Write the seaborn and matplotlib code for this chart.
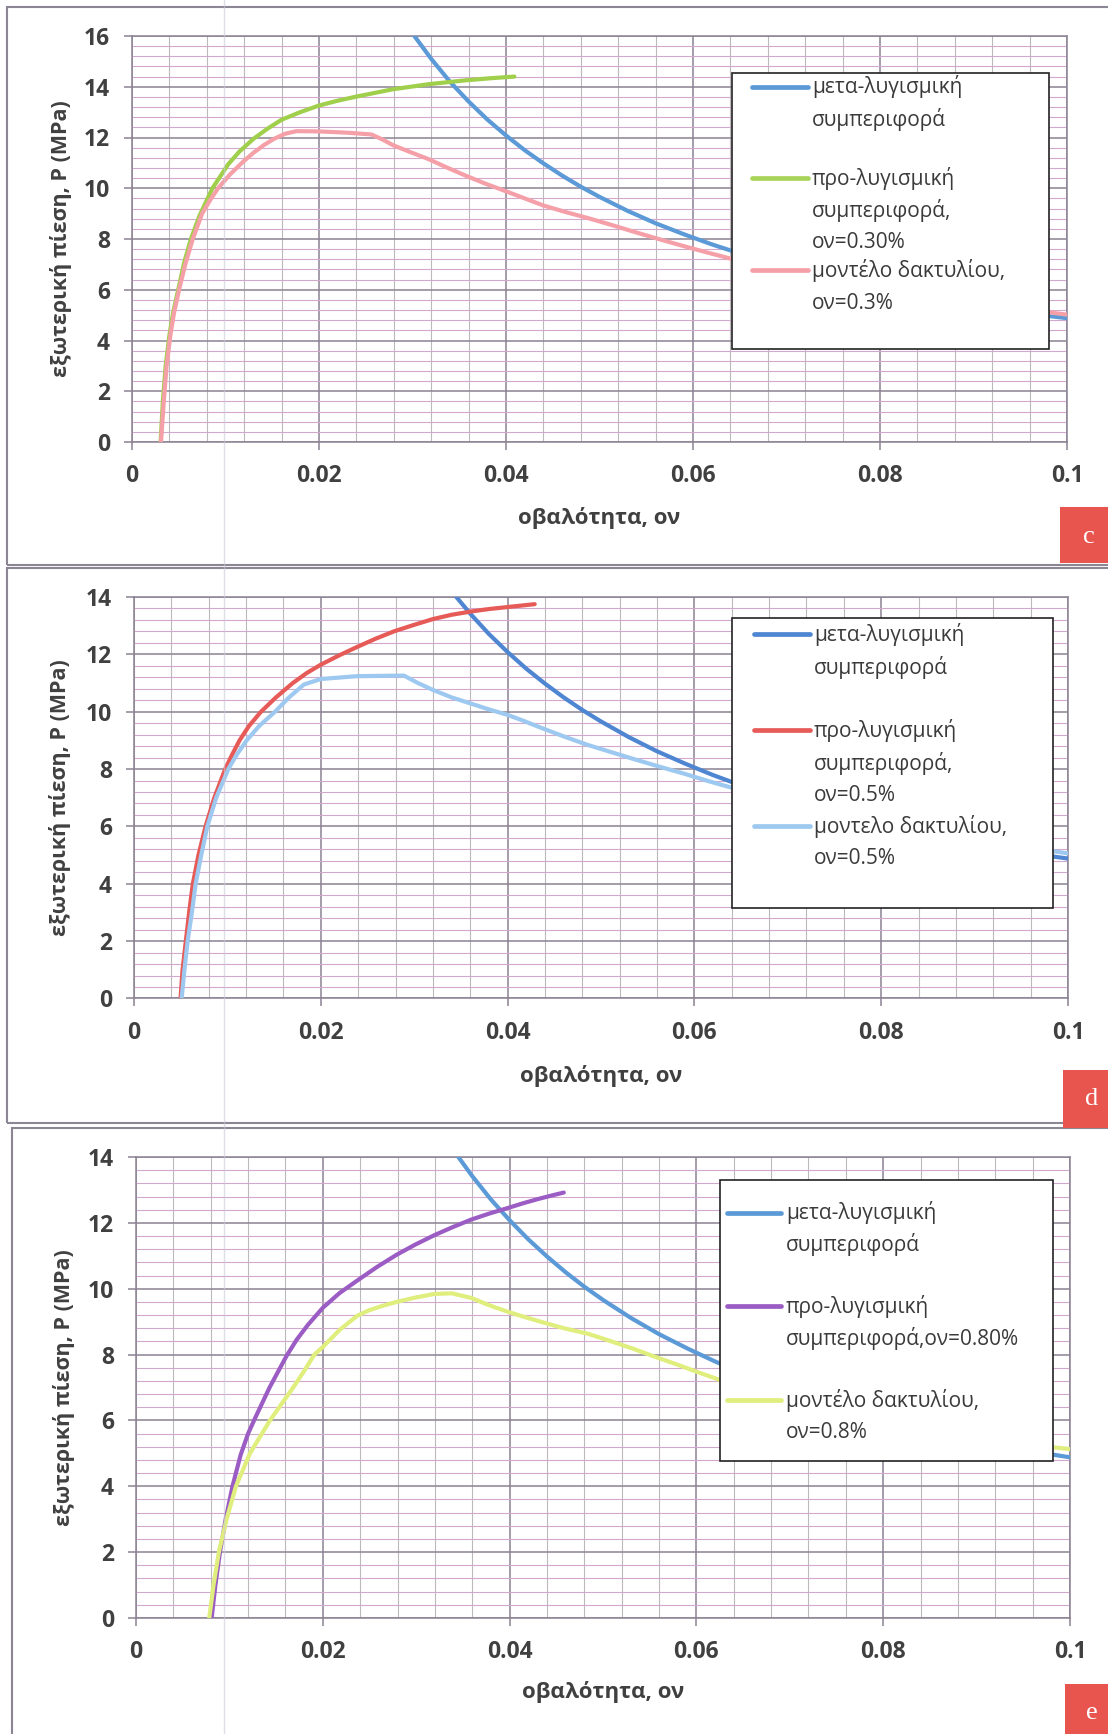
import numpy as np
import seaborn as sns
import matplotlib
matplotlib.use("Agg")
from matplotlib import pyplot as plt
from matplotlib.patches import Rectangle
from matplotlib.lines import Line2D
from matplotlib.ticker import MultipleLocator
from matplotlib.transforms import blended_transform_factory

# post-buckling curve (same in all three panels)
post_x = [0.029, 0.030, 0.032, 0.034, 0.036, 0.038, 0.040, 0.042, 0.044, 0.046,
          0.048, 0.050, 0.053, 0.056, 0.059, 0.062, 0.065, 0.068, 0.072, 0.076,
          0.080, 0.085, 0.090, 0.095, 0.100]
post_y = [16.6, 16.1, 15.1, 14.2, 13.42, 12.71, 12.08, 11.5, 10.98, 10.5,
          10.06, 9.66, 9.11, 8.62, 8.19, 7.79, 7.43, 7.1, 6.71, 6.36,
          6.04, 5.69, 5.38, 5.1, 4.88]

# panel c, ov = 0.3%
pre_c_x = [0.00306, 0.0033, 0.0036, 0.0040, 0.0044, 0.0050, 0.0056, 0.0063, 0.0072,
           0.0086, 0.0095, 0.0103, 0.0115, 0.0130, 0.0145, 0.0160, 0.0180, 0.0200,
           0.0220, 0.0241, 0.0279, 0.0317, 0.0356, 0.0385, 0.0409]
pre_c_y = [0.0, 1.6, 3.0, 4.2, 5.1, 6.1, 7.1, 8.0, 8.9,
           10.0, 10.5, 10.95, 11.45, 11.95, 12.35, 12.7, 13.0, 13.26,
           13.45, 13.62, 13.9, 14.1, 14.25, 14.34, 14.4]
ring_c_x = [0.0031, 0.0034, 0.0037, 0.0041, 0.0045, 0.0051, 0.0057, 0.0065, 0.0075,
            0.0083, 0.0092, 0.0105, 0.0119, 0.0130, 0.0141, 0.0152, 0.0164, 0.0176,
            0.0200, 0.0230, 0.0256, 0.0268, 0.0279, 0.0298, 0.0317, 0.0336, 0.0356,
            0.0378, 0.0400, 0.0420, 0.0440, 0.0465, 0.0490, 0.0515, 0.0540, 0.0565,
            0.0591, 0.0615, 0.0642, 0.0700, 0.0750, 0.0800, 0.0850, 0.0900, 0.0950,
            0.1000]
ring_c_y = [0.0, 1.6, 3.0, 4.2, 5.1, 6.1, 7.0, 8.0, 9.0,
            9.5, 10.0, 10.55, 11.05, 11.4, 11.7, 11.95, 12.15, 12.25,
            12.24, 12.19, 12.12, 11.92, 11.7, 11.42, 11.15, 10.83, 10.51,
            10.18, 9.88, 9.6, 9.32, 9.05, 8.8, 8.53, 8.25, 7.98,
            7.71, 7.47, 7.21, 6.75, 6.4, 6.08, 5.78, 5.5, 5.25,
            5.02]

# panel d, ov = 0.5%
pre_d_x = [0.00498, 0.0052, 0.00555, 0.0059, 0.0063, 0.0069, 0.00766, 0.0086, 0.00976,
           0.0105, 0.0113, 0.0123, 0.0136, 0.0152, 0.0170, 0.0185, 0.0200, 0.0220,
           0.0239, 0.0259, 0.0279, 0.0300, 0.0320, 0.0340, 0.0362, 0.0380, 0.0400,
           0.0429]
pre_d_y = [0.0, 1.0, 2.0, 3.0, 4.0, 5.0, 6.0, 7.0, 8.0,
           8.5, 9.0, 9.5, 10.0, 10.5, 11.0, 11.35, 11.64, 11.97,
           12.26, 12.55, 12.81, 13.03, 13.23, 13.38, 13.5, 13.58, 13.65,
           13.75]
ring_d_x = [0.0051, 0.0054, 0.00574, 0.0062, 0.0066, 0.0072, 0.00785, 0.0088, 0.0101,
            0.0110, 0.01206, 0.0134, 0.0151, 0.0166, 0.0182, 0.0200, 0.0239, 0.0289,
            0.0304, 0.0320, 0.0340, 0.0362, 0.0380, 0.0400, 0.0418, 0.0435, 0.0460,
            0.0485, 0.0510, 0.0536, 0.0563, 0.0590, 0.0615, 0.0640, 0.0700, 0.0750,
            0.0800, 0.0850, 0.0900, 0.0950, 0.1000]
ring_d_y = [0.0, 1.0, 2.0, 3.0, 4.0, 5.0, 6.0, 7.0, 8.0,
            8.5, 9.0, 9.5, 10.0, 10.5, 10.95, 11.14, 11.24, 11.26,
            11.0, 10.76, 10.5, 10.27, 10.08, 9.89, 9.67, 9.45, 9.14,
            8.85, 8.6, 8.34, 8.08, 7.83, 7.58, 7.35, 6.9, 6.5,
            6.15, 5.85, 5.55, 5.3, 5.06]

# panel e, ov = 0.8%
pre_e_x = [0.0081, 0.0085, 0.00899, 0.0096, 0.01033, 0.0112, 0.0120, 0.0128, 0.0143,
           0.0161, 0.0172, 0.0184, 0.0200, 0.0218, 0.0237, 0.0258, 0.0279, 0.0299,
           0.0319, 0.0339, 0.0359, 0.0378, 0.0398, 0.0415, 0.0430, 0.0445, 0.0458]
pre_e_y = [0.0, 1.0, 2.0, 3.0, 4.0, 4.95, 5.6, 6.1, 7.0,
           7.95, 8.45, 8.9, 9.42, 9.87, 10.25, 10.66, 11.03, 11.34,
           11.62, 11.87, 12.1, 12.28, 12.45, 12.6, 12.72, 12.83, 12.92]
ring_e_x = [0.00784, 0.0083, 0.00887, 0.0097, 0.0107, 0.0122, 0.01434, 0.01683, 0.0180,
            0.0191, 0.0200, 0.0218, 0.0237, 0.0249, 0.0264, 0.0279, 0.0299, 0.0319,
            0.0338, 0.0359, 0.0378, 0.0398, 0.0415, 0.0433, 0.0458, 0.0483, 0.0508,
            0.0533, 0.0556, 0.0580, 0.0603, 0.0626, 0.0680, 0.0730, 0.0780, 0.0830,
            0.0880, 0.0930, 0.0970, 0.1000]
ring_e_y = [0.0, 1.0, 2.0, 3.0, 4.0, 5.0, 6.0, 7.0, 7.5,
            8.0, 8.23, 8.75, 9.18, 9.34, 9.48, 9.6, 9.73, 9.84,
            9.86, 9.72, 9.5, 9.3, 9.15, 9.0, 8.8, 8.64, 8.41,
            8.17, 7.93, 7.69, 7.45, 7.22, 6.75, 6.4, 6.08, 5.8,
            5.57, 5.37, 5.22, 5.13]

x_ticks = [0, 0.02, 0.04, 0.06, 0.08, 0.1]
x_tick_labels = ["0", "0.02", "0.04", "0.06", "0.08", "0.1"]

x_label = "οβαλότητα, ον"
y_label = "εξωτερική πίεση, P (MPa)"

W, H = 1108, 1734

sns.set_theme(style="white")
plt.rcParams['font.family'] = ['Open Sans', 'DejaVu Sans']

fig = plt.figure(figsize=(W / 100, H / 100), dpi=100)
fig.patch.set_facecolor("white")


def fx(px):
    return px / W


def fy(py):
    return 1 - py / H


major_col = "#8b8392"
tick_col = "#404040"


def draw_panel(box, ymax, series, legend, frame, letter, ylab_x, xlab_top):
    left, top, right, bottom = box
    ax = fig.add_axes([fx(left), fy(bottom), fx(right) - fx(left), (bottom - top) / H])
    ax.set_facecolor("white")

    for x, y, color in series:
        sns.lineplot(x=x, y=y, ax=ax, color=color, linewidth=3.0,
                     solid_capstyle="round", solid_joinstyle="round", zorder=3)

    ax.set_xlim(0, 0.1)
    ax.set_ylim(0, ymax)
    ax.set_xticks(x_ticks)
    ax.set_xticklabels(x_tick_labels)
    ax.set_yticks(list(range(0, ymax + 1, 2)))
    ax.xaxis.set_minor_locator(MultipleLocator(0.004))
    ax.yaxis.set_minor_locator(MultipleLocator(0.4))

    ax.grid(which="major", color=major_col, linewidth=1.1)
    ax.grid(which="minor", axis="y", color="#d2a9cc", linewidth=0.8)
    ax.grid(which="minor", axis="x", color="#bdb8bd", linewidth=0.8)
    ax.set_axisbelow(True)

    for s in ax.spines.values():
        s.set_color(major_col)
        s.set_linewidth(1.1)

    ax.tick_params(which="major", direction="out", length=6, width=1.1, color=major_col,
                   labelsize=16.5, labelcolor=tick_col, pad=10, bottom=True, left=True)
    ax.tick_params(which="minor", length=0)
    for lab in ax.get_xticklabels() + ax.get_yticklabels():
        lab.set_fontweight("bold")

    ax.set_xlabel(x_label, fontsize=16, fontweight="bold", color=tick_col)
    ax.set_ylabel(y_label, fontsize=15.5, fontweight="bold", color=tick_col)
    ax.xaxis.set_label_coords(0.5, fy(xlab_top),
                              transform=blended_transform_factory(ax.transAxes, fig.transFigure))
    ax.yaxis.set_label_coords(fx(ylab_x), 0.5,
                              transform=blended_transform_factory(fig.transFigure, ax.transAxes))

    # legend box drawn the way the original spreadsheet lays it out
    (lx0, ly0, lx1, ly1), hx0, hx1, tx, handles, lines = legend
    fig.add_artist(Rectangle((fx(lx0), fy(ly1)), fx(lx1) - fx(lx0), (ly1 - ly0) / H,
                             transform=fig.transFigure, facecolor="white",
                             edgecolor="#222222", linewidth=1.2, zorder=5))
    for hy, color in handles:
        fig.add_artist(Line2D([fx(hx0), fx(hx1)], [fy(hy), fy(hy)], transform=fig.transFigure,
                              color=color, linewidth=3.4, zorder=6))
    for ty, txt in lines:
        fig.text(fx(tx), fy(ty), txt, fontsize=15, color="#3a3a3a", ha="left",
                 va="center", zorder=7)

    # chart frame and panel letter
    fx0, fy0, fx1, fy1 = frame
    fig.add_artist(Rectangle((fx(fx0), fy(fy1)), fx(fx1) - fx(fx0), (fy1 - fy0) / H,
                             transform=fig.transFigure, facecolor="none",
                             edgecolor="#8b8594", linewidth=1.5, zorder=1))
    (bx0, by0, bx1, by1), (cx, cy) = letter[1], letter[2]
    fig.add_artist(Rectangle((fx(bx0), fy(by1)), fx(bx1) - fx(bx0), (by1 - by0) / H,
                             transform=fig.transFigure, facecolor="#e8554f",
                             edgecolor="none", zorder=8))
    fig.text(fx(cx), fy(cy), letter[0], fontsize=19, color="white",
             family="Liberation Serif", ha="center", va="center", zorder=9)
    return ax


# panel c
draw_panel(
    box=(132, 36, 1067, 442), ymax=16,
    series=[(post_x, post_y, "#5b9ad6"), (pre_c_x, pre_c_y, "#a0cf4c"),
            (ring_c_x, ring_c_y, "#f5a0a8")],
    legend=((732, 73, 1049, 349), 752, 808, 812,
            [(87, "#5b9ad6"), (178, "#a8d45a"), (270, "#f5a0a8")],
            [(87, "μετα-λυγισμική"), (119.5, "συμπεριφορά"),
             (178, "προ-λυγισμική"), (210, "συμπεριφορά,"), (243, "ον=0.30%"),
             (270, "μοντέλο δακτυλίου,"), (303.5, "ον=0.3%")]),
    frame=(7, 7, 1120, 565),
    letter=("c", (1060, 507, 1108, 563), (1089, 537)),
    ylab_x=72, xlab_top=507)

# panel d
draw_panel(
    box=(134, 597, 1068, 998.5), ymax=14,
    series=[(post_x, post_y, "#4f86d2"), (pre_d_x, pre_d_y, "#e65a58"),
            (ring_d_x, ring_d_y, "#9dc9f0")],
    legend=((732, 618, 1053, 908), 754, 810, 814,
            [(634, "#4f86d2"), (730, "#e65a58"), (826, "#9dc9f0")],
            [(634, "μετα-λυγισμική"), (667, "συμπεριφορά"),
             (730, "προ-λυγισμική"), (763, "συμπεριφορά,"), (795.5, "ον=0.5%"),
             (826, "μοντελο δακτυλίου,"), (859, "ον=0.5%")]),
    frame=(7, 568, 1120, 1123),
    letter=("d", (1063, 1070, 1108, 1128), (1092, 1099)),
    ylab_x=71, xlab_top=1065)

# panel e
draw_panel(
    box=(136, 1157, 1070, 1618), ymax=14,
    series=[(post_x, post_y, "#5b9ad6"), (pre_e_x, pre_e_y, "#9b5cc4"),
            (ring_e_x, ring_e_y, "#dfee7c")],
    legend=((720, 1180, 1053, 1461), 727, 781, 786,
            [(1213, "#5b9ad6"), (1306, "#9b5cc4"), (1400, "#dfee7c")],
            [(1213, "μετα-λυγισμική"), (1244.5, "συμπεριφορά"),
             (1306, "προ-λυγισμική"), (1338, "συμπεριφορά,ον=0.80%"),
             (1400, "μοντέλο δακτυλίου,"), (1432.5, "ον=0.8%")]),
    frame=(12, 1128, 1120, 1745),
    letter=("e", (1065, 1684, 1108, 1734), (1092, 1713)),
    ylab_x=75, xlab_top=1681)

# faint fold line from the scanned page
fig.add_artist(Line2D([fx(224), fx(224)], [0, 1], transform=fig.transFigure,
                      color="#c9c9d6", linewidth=1.0, alpha=0.6, zorder=4))

fig.savefig("out.png", dpi=100, facecolor="white")
